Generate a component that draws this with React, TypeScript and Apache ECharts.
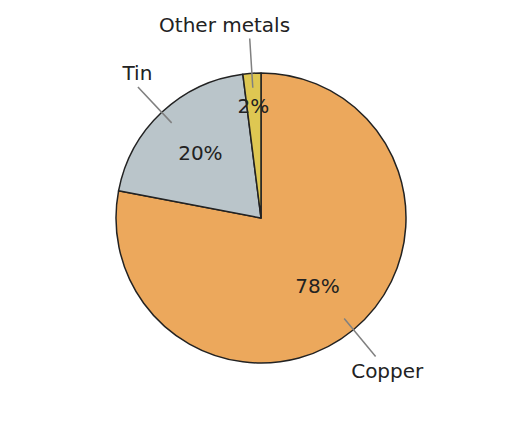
import React, { useEffect, useRef } from 'react';
import * as echarts from 'echarts';

const categories = ['Copper', 'Tin', 'Other metals'];
const shares = [78, 20, 2];
const colors = ['#ECA85C', '#BAC5CA', '#DEC752'];

// label nudges (px), keyed by category
const pctOffsets: Record<string, number[]> = { 'Other metals': [-2, -24] };
const nameOffsets: Record<string, number[]> = { Tin: [12, -1], 'Other metals': [-24, 5] };

const CX = 261;
const CY = 218;
const R = 145;
const FONT = 'DejaVu Sans, sans-serif';

const App: React.FC = () => {
  const chartRef = useRef<HTMLDivElement>(null);

  useEffect(() => {
    if (!chartRef.current) return;
    const chart = echarts.init(chartRef.current, null, { renderer: 'svg' });

    const base = {
      type: 'pie',
      center: [CX, CY],
      startAngle: 90,
      clockwise: true,
      avoidLabelOverlap: false,
      animation: false,
      emphasis: { disabled: true },
      silent: true,
    };

    const option: any = {
      animation: false,
      series: [
        {
          ...base,
          z: 1,
          radius: R,
          label: { show: false },
          labelLine: { show: false },
          data: categories.map((name, i) => ({
            name,
            value: shares[i],
            itemStyle: { color: colors[i], borderColor: '#222', borderWidth: 1.5 },
          })),
        },
        {
          ...base,
          z: 3,
          radius: R * 0.59 * 2,
          itemStyle: { color: 'transparent', borderWidth: 0 },
          label: {
            show: true,
            position: 'inside',
            color: '#222',
            fontFamily: FONT,
            fontSize: 20,
            formatter: (p: any) => `${p.value}%`,
          },
          labelLine: { show: false },
          data: categories.map((name, i) => ({
            name,
            value: shares[i],
            label: pctOffsets[name] ? { offset: pctOffsets[name] } : undefined,
          })),
        },
        {
          ...base,
          z: 2,
          radius: R * 0.9,
          itemStyle: { color: 'transparent', borderWidth: 0 },
          label: {
            show: true,
            position: 'outside',
            formatter: ' ',
            color: 'transparent',
            fontSize: 2,
          },
          labelLine: {
            show: true,
            length: R * 0.34,
            length2: 0,
            smooth: false,
            lineStyle: { color: '#808080', width: 1.5 },
          },
          data: categories.map((name, i) => ({ name, value: shares[i] })),
        },
        {
          ...base,
          z: 3,
          radius: [R * 1.285, R * 1.405],
          itemStyle: { color: 'transparent', borderWidth: 0 },
          label: {
            show: true,
            position: 'inside',
            color: '#222',
            fontFamily: FONT,
            fontSize: 20,
            formatter: '{b}',
          },
          labelLine: { show: false },
          data: categories.map((name, i) => ({
            name,
            value: shares[i],
            label: nameOffsets[name] ? { offset: nameOffsets[name] } : undefined,
          })),
        },
      ],
    };
    chart.setOption(option);

    return () => {
      chart.dispose();
    };
  }, []);

  return (
    <div
      ref={chartRef}
      style={{ position: 'fixed', left: 0, top: 0, width: '522px', height: '439px', background: '#fff' }}
    ></div>
  );
};

export default App;
